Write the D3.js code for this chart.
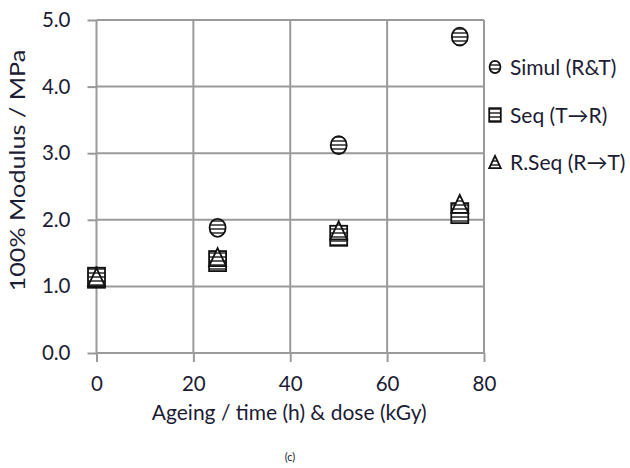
<!DOCTYPE html>
<html>
<head>
<meta charset="utf-8">
<script src="https://cdn.jsdelivr.net/npm/d3@7"></script>
<style>
  html, body { margin: 0; padding: 0; background: #fff; }
  svg { display: block; }
  text { font-family: Lato, "Open Sans", sans-serif; fill: #1c1c34; }
</style>
</head>
<body>
<svg id="chart" width="630" height="468"></svg>
<script>
// Ageing (h / kGy) and 100% modulus (MPa) for each ageing route
const ageing = [0, 25, 50, 75];
const simul = [1.15, 1.88, 3.12, 4.75];
const seqTR = [1.13, 1.38, 1.76, 2.10];
const rseqRT = [1.14, 1.44, 1.84, 2.24];
const seriesNames = ["Simul (R&T)", "Seq (T\u2192R)", "R.Seq (R\u2192T)"];
const xTicks = [0, 20, 40, 60, 80];
const yTicks = [0, 1, 2, 3, 4, 5];

const svg = d3.select("#chart");
const W = 630, H = 468;
const margin = { left: 96.5, right: 146, top: 20, bottom: 115 };

const x = d3.scaleLinear().domain([0, 80]).range([margin.left, W - margin.right]);
const y = d3.scaleLinear().domain([0, 5]).range([H - margin.bottom, margin.top]);

// Horizontal hatch used inside the markers
const defs = svg.append("defs");
const pat = defs.append("pattern")
  .attr("id", "hatch").attr("patternUnits", "userSpaceOnUse")
  .attr("width", 6).attr("height", 4);
pat.append("rect").attr("width", 6).attr("height", 4).attr("fill", "#fff");
pat.append("rect").attr("y", 0).attr("width", 6).attr("height", 2).attr("fill", "#5e5e5e");

const gridColor = "#9a9a9a";

// Grid
svg.append("g").selectAll("line").data(yTicks.filter(d => d > 0)).join("line")
  .attr("x1", x(0)).attr("x2", x(80))
  .attr("y1", d => y(d)).attr("y2", d => y(d))
  .attr("stroke", gridColor).attr("stroke-width", 2);
svg.append("g").selectAll("line").data(xTicks.filter(d => d > 0)).join("line")
  .attr("x1", d => x(d)).attr("x2", d => x(d))
  .attr("y1", y(0)).attr("y2", y(5))
  .attr("stroke", gridColor).attr("stroke-width", 2);

// Axes
const yAxis = d3.axisLeft(y).tickValues(yTicks).tickFormat(d3.format(".1f"))
  .tickSize(9).tickPadding(17);
const xAxis = d3.axisBottom(x).tickValues(xTicks).tickFormat(d3.format("d"))
  .tickSize(9).tickPadding(14);

const gy = svg.append("g").attr("transform", `translate(${x(0)},0)`).call(yAxis);
const gx = svg.append("g").attr("transform", `translate(0,${y(0)})`).call(xAxis);
[gx, gy].forEach(g => {
  g.select(".domain").attr("stroke", gridColor).attr("stroke-width", 2);
  g.selectAll(".tick line").attr("stroke", gridColor).attr("stroke-width", 2);
  g.selectAll(".tick text").attr("font-size", 20.5).attr("font-family", "Lato, sans-serif").attr("fill", "#1c1c34");
});
gy.select(".domain").attr("d", `M0,${y(0)}V${y(5)}`);
gx.select(".domain").attr("d", `M${x(0)},0H${x(80)}`);

// Marker shapes
function drawMarker(g, kind, cx, cy, s) {
  if (kind === 0) {
    g.append("ellipse").attr("cx", cx).attr("cy", cy)
      .attr("rx", 8 * s).attr("ry", 9 * s)
      .attr("fill", "url(#hatch)").attr("stroke", "#111").attr("stroke-width", 1.8);
  } else if (kind === 1) {
    g.append("rect").attr("x", cx - 8.5 * s).attr("y", cy - 10 * s)
      .attr("width", 17 * s).attr("height", 20 * s)
      .attr("fill", "url(#hatch)").attr("stroke", "#111").attr("stroke-width", 1.8);
  } else {
    const h = 18 * s, b = 8.5 * s;
    g.append("path")
      .attr("d", `M${cx},${cy - h / 2}L${cx + b},${cy + h / 2}L${cx - b},${cy + h / 2}Z`)
      .attr("fill", "url(#hatch)").attr("stroke", "#111").attr("stroke-width", 1.8)
      .attr("stroke-linejoin", "miter");
  }
}

const allSeries = [simul, seqTR, rseqRT];
const markers = svg.append("g");
allSeries.forEach((vals, k) => {
  vals.forEach((v, i) => drawMarker(markers, k, x(ageing[i]), y(v), 1));
});

// Legend
const legend = svg.append("g");
const legendY = [67, 115, 162];
seriesNames.forEach((name, k) => {
  drawMarker(legend, k, 495, legendY[k], 0.68);
  legend.append("text").attr("x", 510).attr("y", legendY[k] + 7.5)
    .attr("font-size", 21).text(name);
});

// Axis titles
svg.append("text")
  .attr("transform", `translate(25,${(y(0) + y(5)) / 2 - 16}) rotate(-90) scale(1.2,1)`)
  .attr("text-anchor", "middle").attr("font-size", 21)
  .text("100% Modulus / MPa");
svg.append("text")
  .attr("x", (x(0) + x(80)) / 2 - 1).attr("y", 420)
  .attr("text-anchor", "middle").attr("font-size", 21)
  .text("Ageing / time (h) & dose (kGy)");
svg.append("text")
  .attr("x", 290).attr("y", 461)
  .attr("text-anchor", "middle").attr("font-size", 11)
  .attr("font-family", "'Liberation Serif', serif")
  .text("(c)");
</script>
</body>
</html>
